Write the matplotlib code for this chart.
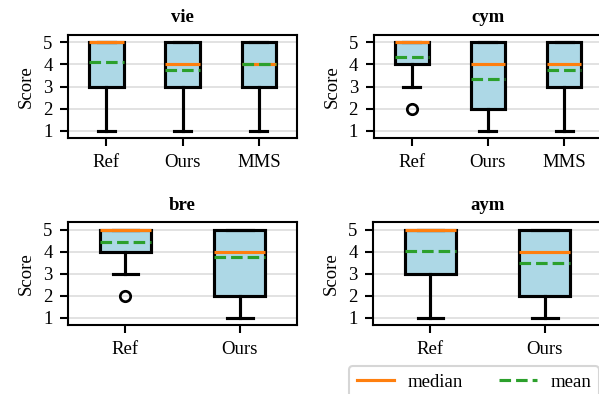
import matplotlib
matplotlib.use("Agg")
import matplotlib.pyplot as plt
from matplotlib.lines import Line2D

plt.rcParams['font.family'] = ['Liberation Serif', 'DejaVu Serif']
plt.rcParams['font.size'] = 9

# Data (box statistics per language / system)
languages = ["vie", "cym", "bre", "aym"]
systems = {
    "vie": ["Ref", "Ours", "MMS"],
    "cym": ["Ref", "Ours", "MMS"],
    "bre": ["Ref", "Ours"],
    "aym": ["Ref", "Ours"],
}
q1 = {"vie": [3, 3, 3], "cym": [4, 2, 3], "bre": [4, 2], "aym": [3, 2]}
med = {"vie": [5, 4, 4], "cym": [5, 4, 4], "bre": [5, 4], "aym": [5, 4]}
q3 = {"vie": [5, 5, 5], "cym": [5, 5, 5], "bre": [5, 5], "aym": [5, 5]}
whislo = {"vie": [1, 1, 1], "cym": [3, 1, 1], "bre": [3, 1], "aym": [1, 1]}
whishi = {"vie": [5, 5, 5], "cym": [5, 5, 5], "bre": [5, 5], "aym": [5, 5]}
means = {"vie": [4.10, 3.73, 4.01], "cym": [4.33, 3.35, 3.77],
         "bre": [4.43, 3.76], "aym": [4.04, 3.50]}
fliers = {"vie": [[], [], []], "cym": [[2], [], []], "bre": [[2], []], "aym": [[], []]}

W, H, DPI = 599, 394, 150
fig = plt.figure(figsize=(W / DPI, H / DPI), dpi=DPI)

# axes rectangles in pixels: left, top, width, height
rects = {
    "vie": (68.3, 35, 228.6, 103),
    "cym": (373.6, 35, 228.6, 103),
    "bre": (68.3, 222.3, 228.6, 102.7),
    "aym": (373.3, 222.3, 228.6, 102.7),
}

LW = 1.5
for lang in languages:
    l, t, w, h = rects[lang]
    ax = fig.add_axes([l / W, 1 - (t + h) / H, w / W, h / H])
    stats = []
    for i, name in enumerate(systems[lang]):
        stats.append(dict(label=name, q1=q1[lang][i], med=med[lang][i], q3=q3[lang][i],
                          whislo=whislo[lang][i], whishi=whishi[lang][i],
                          mean=means[lang][i], fliers=fliers[lang][i]))
    ax.bxp(stats, widths=0.45, patch_artist=True, showmeans=True, meanline=True,
           boxprops=dict(facecolor='lightblue', edgecolor='black', linewidth=LW),
           whiskerprops=dict(color='black', linewidth=LW),
           capprops=dict(color='black', linewidth=LW),
           medianprops=dict(color='#ff7f0e', linewidth=LW),
           meanprops=dict(color='#2ca02c', linestyle='--', linewidth=LW),
           flierprops=dict(marker='o', markerfacecolor='none', markeredgecolor='black',
                           markersize=5, markeredgewidth=1.3))
    ax.set_ylim(0.68, 5.33)
    ax.set_yticks([1, 2, 3, 4, 5])
    ax.yaxis.grid(True, color='#dddddd', linewidth=0.8)
    ax.set_axisbelow(True)
    ax.set_title(lang, fontweight='bold', fontsize=9)
    ax.set_ylabel("Score")
    ax.tick_params(axis='both', length=4, width=1.0)
    for s in ax.spines.values():
        s.set_linewidth(1.0)

handles = [Line2D([], [], color='#ff7f0e', linewidth=LW),
           Line2D([], [], color='#2ca02c', linestyle='--', linewidth=LW)]
fig.legend(handles, ["median", "mean"], loc='upper left',
           bbox_to_anchor=(349 / W, 1 - 366 / H), borderaxespad=0,
           ncol=2, handlelength=2.0, handletextpad=0.75, columnspacing=1.9, fontsize=9)

fig.savefig("out.png", dpi=DPI)
